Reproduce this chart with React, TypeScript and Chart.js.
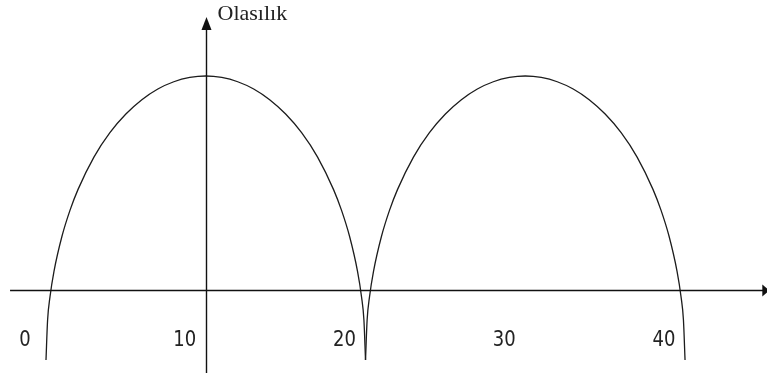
import React, { useEffect, useRef } from "react";
import { Chart, registerables } from "chart.js";

Chart.register(...registerables);

// Arch 1 (x in axis units, y in relative probability units; y = 0 is the horizontal axis)
const arch1X = [0, 0.1, 0.25, 0.5, 1, 1.5, 2, 3, 4, 5, 6, 7, 8, 9, 10, 11, 12, 13, 14, 15, 16, 17, 18, 18.5, 19, 19.5, 19.75, 19.9, 20];
const arch1Y = [-3.27, -1.4, -0.32, 0.87, 2.51, 3.72, 4.69, 6.21, 7.35, 8.22, 8.89, 9.39, 9.73, 9.93, 10, 9.93, 9.73, 9.39, 8.89, 8.22, 7.35, 6.21, 4.69, 3.72, 2.51, 0.87, -0.32, -1.4, -3.27];
// Arch 2
const arch2X = [20, 20.1, 20.25, 20.5, 21, 21.5, 22, 23, 24, 25, 26, 27, 28, 29, 30, 31, 32, 33, 34, 35, 36, 37, 38, 38.5, 39, 39.5, 39.75, 39.9, 40];
const arch2Y = [-3.27, -1.4, -0.32, 0.87, 2.51, 3.72, 4.69, 6.21, 7.35, 8.22, 8.89, 9.39, 9.73, 9.93, 10, 9.93, 9.73, 9.39, 8.89, 8.22, 7.35, 6.21, 4.69, 3.72, 2.51, 0.87, -0.32, -1.4, -3.27];

const tickValues = [0, 10, 20, 30, 40];
const tickLabels = ["0", "10", "20", "30", "40"];
const yAxisTitle = "Olasılık";

const axesPlugin = {
  id: "axesPlugin",
  afterDatasetsDraw(chart: any) {
    const ctx = chart.ctx;
    const xs = chart.scales.x;
    const ys = chart.scales.y;
    const px = (v: number) => xs.getPixelForValue(v);
    const py = (v: number) => ys.getPixelForValue(v);
    ctx.save();
    ctx.strokeStyle = "#111";
    ctx.fillStyle = "#111";
    ctx.lineWidth = 1.4;

    // horizontal axis
    const y0 = Math.round(py(0)) + 0.5;
    const xStart = px(-2.25);
    const xEnd = px(44.9);
    ctx.beginPath();
    ctx.moveTo(xStart, y0);
    ctx.lineTo(xEnd, y0);
    ctx.stroke();
    ctx.beginPath();
    ctx.moveTo(xEnd - 1, y0 - 6);
    ctx.lineTo(xEnd + 6, y0);
    ctx.lineTo(xEnd - 1, y0 + 6);
    ctx.closePath();
    ctx.fill();

    // vertical axis at x = 10
    const x0 = Math.round(px(10)) + 0.5;
    const yBottom = py(-3.88);
    const yTop = py(12.2);
    ctx.beginPath();
    ctx.moveTo(x0, yBottom);
    ctx.lineTo(x0, yTop);
    ctx.stroke();
    ctx.beginPath();
    ctx.moveTo(x0 - 5, yTop + 1);
    ctx.lineTo(x0, yTop - 12);
    ctx.lineTo(x0 + 5, yTop + 1);
    ctx.closePath();
    ctx.fill();

    // tick labels (slightly tall, narrow glyphs as in the reference)
    ctx.fillStyle = "#222";
    ctx.font = "18px 'DejaVu Sans'";
    ctx.textAlign = "center";
    ctx.textBaseline = "middle";
    const sy = 1.17;
    tickValues.forEach((v, i) => {
      ctx.save();
      ctx.translate(px(v) - 21, py(-2.38));
      ctx.scale(1, sy);
      ctx.fillText(tickLabels[i], 0, 0);
      ctx.restore();
    });

    // axis title
    ctx.font = "22px 'Liberation Serif'";
    ctx.textAlign = "left";
    ctx.textBaseline = "alphabetic";
    ctx.fillText(yAxisTitle, x0 + 11, py(12.62));
    ctx.restore();
  },
};

export default function App() {
  const ref = useRef<HTMLCanvasElement | null>(null);
  useEffect(() => {
    document.body.style.margin = "0";
    const canvas = ref.current!;
    const toPts = (xs: number[], ys: number[]) => xs.map((x, i) => ({ x, y: ys[i] }));
    const chart = new Chart(canvas, {
      type: "line",
      data: {
        datasets: [
          {
            data: toPts(arch1X, arch1Y),
            borderColor: "#1c1c1c",
            borderWidth: 1.3,
            pointRadius: 0,
            fill: false,
            cubicInterpolationMode: "monotone",
          },
          {
            data: toPts(arch2X, arch2Y),
            borderColor: "#1c1c1c",
            borderWidth: 1.3,
            pointRadius: 0,
            fill: false,
            cubicInterpolationMode: "monotone",
          },
        ],
      },
      options: {
        animation: false,
        responsive: false,
        devicePixelRatio: 1,
        layout: { padding: 0 },
        plugins: { legend: { display: false }, tooltip: { enabled: false } },
        scales: {
          x: { type: "linear", display: false, min: -2.879, max: 45.13 },
          y: { type: "linear", display: false, min: -4.065, max: 13.55 },
        },
      },
      plugins: [axesPlugin],
    });
    return () => chart.destroy();
  }, []);
  return (
    <div style={{ position: "fixed", left: 0, top: 0, width: 767, height: 377, background: "#fff" }}>
      <canvas ref={ref} width={767} height={377} />
    </div>
  );
}
